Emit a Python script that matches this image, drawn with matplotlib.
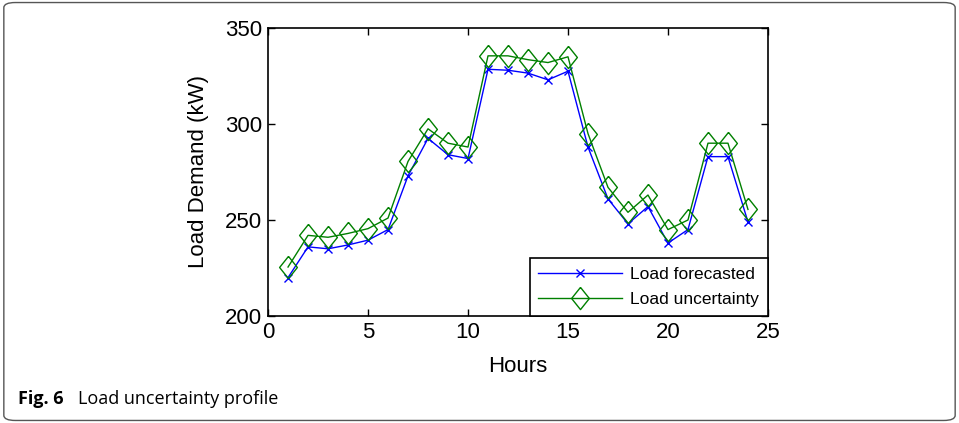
import numpy as np
import matplotlib.pyplot as plt
from matplotlib.patches import FancyBboxPatch

hours = np.arange(1, 25)
load_forecasted = [220, 236, 235, 237, 239.5, 245, 273, 292.5, 284, 282,
                   328.5, 328, 326.5, 323, 327.5, 288, 261, 248, 257, 238,
                   245, 283, 283, 249]
load_uncertainty = [225.5, 242, 241, 243, 245.5, 251, 280.5, 297.5, 290, 288,
                    335.5, 335.5, 333.5, 332, 335, 295, 267, 254, 263, 245,
                    250, 290, 290, 255.5]

plt.rcParams['font.family'] = ['Liberation Sans', 'DejaVu Sans']

fig = plt.figure(figsize=(9.59, 4.23), dpi=100)

# outer rounded frame like the journal figure box
frame = FancyBboxPatch((0.004, 0.006), 0.992, 0.988, boxstyle="round,pad=0,rounding_size=0.012",
                       transform=fig.transFigure, fill=False, edgecolor="#555555", linewidth=1.0)
fig.patches.append(frame)

diamond = [(0, 1.25), (1, 0), (0, -1.25), (-1, 0), (0, 1.25)]

ax = fig.add_axes([0.2795, 0.253, 0.5213, 0.6808])
ax.plot(hours, load_forecasted, color="blue", marker="x", markersize=6, linewidth=1.0,
        markeredgewidth=1.0, label="Load forecasted")
ax.plot(hours, load_uncertainty, color="green", marker=diamond, markersize=16, linewidth=1.0,
        markerfacecolor="none", markeredgewidth=1.0, label="Load uncertainty")

ax.set_xlim(0, 25)
ax.set_ylim(200, 350)
ax.set_xticks([0, 5, 10, 15, 20, 25])
ax.set_yticks([200, 250, 300, 350])
ax.tick_params(direction="in", top=True, right=True, labelsize=16, length=5, width=1, pad=4)
for s in ax.spines.values():
    s.set_linewidth(1.2)
ax.set_xlabel("Hours", fontsize=16, labelpad=10)
ax.set_ylabel("Load Demand (kW)", fontsize=16, labelpad=12)

leg = ax.legend(loc="lower right", fontsize=12.5, fancybox=False, framealpha=1,
                edgecolor="black", borderaxespad=0, handlelength=4.8, borderpad=0.5,
                labelspacing=0.6, handletextpad=0.5)
leg.get_frame().set_linewidth(1.2)

fig.text(0.019, 0.057, "Fig. 6", fontsize=13, fontweight="bold", family="Open Sans", va="center")
fig.text(0.081, 0.057, "Load uncertainty profile", fontsize=13, family="Open Sans", va="center")

plt.savefig("out.png", dpi=100)
